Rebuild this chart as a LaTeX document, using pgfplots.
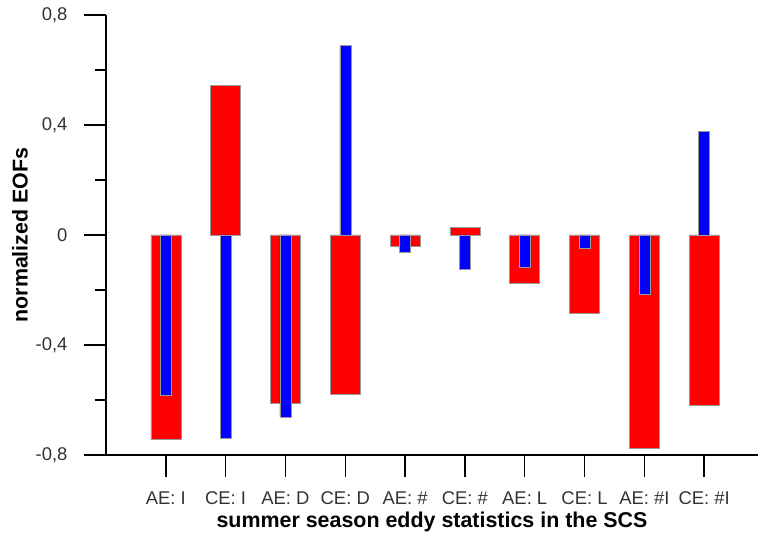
\documentclass[border=0pt]{standalone}
\usepackage{pgfplots}
\pgfplotsset{compat=1.18}
\usepackage{fontspec}
\setmainfont{Liberation Sans}
\definecolor{barred}{RGB}{255,0,0}
\definecolor{barblue}{RGB}{0,0,255}
\begin{document}
\begin{tikzpicture}
\begin{axis}[
  scale only axis,
  width=652bp, height=440bp,
  xmin=-1, xmax=9.9,
  ymin=-0.8, ymax=0.8,
  axis lines*=left,
  axis line style={line width=1.5bp, black},
  tick style={line width=1.5bp, black},
  tick align=outside,
  major tick length=22bp,
  minor tick length=11bp,
  xtick={0,1,2,3,4,5,6,7,8,9},
  xticklabels={{AE: I},{CE: I},{AE: D},{CE: D},{AE: \#},{CE: \#},{AE: L},{CE: L},{AE: \#I},{CE: \#I}},
  ytick={-0.8,-0.4,0,0.4,0.8},
  yticklabels={{-0,8},{-0,4},0,{0,4},{0,8}},
  minor ytick={-0.6,-0.2,0.2,0.6},
  ticklabel style={font=\fontsize{18.5}{22}\selectfont, text=black!80},
  yticklabel style={xshift=-13bp},
  xticklabel style={yshift=-11bp},
  xlabel={summer season eddy statistics in the SCS},
  ylabel={normalized EOFs},
  xlabel style={font=\bfseries\fontsize{21.5}{24}\selectfont, at={(axis description cs:0.5,-0.1523)}, anchor=center},
  ylabel style={font=\bfseries\fontsize{21.5}{24}\selectfont, at={(axis description cs:-0.132,0.5)}, anchor=center},
  clip=false,
]
\addplot[ybar, bar width=30bp, bar shift=0pt, fill=barred, draw=gray!80, line width=0.5bp]
  coordinates {(0,-0.744) (1,0.545) (2,-0.610) (3,-0.578) (4,-0.040) (5,0.027) (6,-0.176) (7,-0.285) (8,-0.774) (9,-0.620)};
\addplot[ybar, bar width=11bp, bar shift=0pt, fill=barblue, draw=gray!80, line width=0.5bp]
  coordinates {(0,-0.583) (1,-0.740) (2,-0.662) (3,0.690) (4,-0.063) (5,-0.123) (6,-0.116) (7,-0.048) (8,-0.216) (9,0.377)};
\end{axis}
\pgfresetboundingbox
\path[use as bounding box] (current axis.south west) ++(-106bp,-80bp) rectangle ++(758bp,535bp);
\end{tikzpicture}
\end{document}
